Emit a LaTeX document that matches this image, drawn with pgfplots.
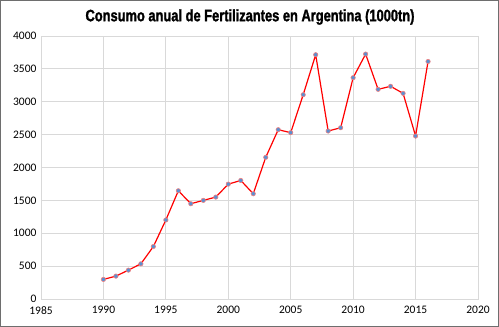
\documentclass[border=0pt]{standalone}
\usepackage{fontspec}
\setmainfont{Carlito}
\newfontfamily\titlefont[FakeStretch=0.78, FakeBold=1.5]{Liberation Sans Bold}
\usepackage{pgfplots}
\pgfplotsset{compat=1.18}
\definecolor{gridgray}{HTML}{D9D9D9}
\definecolor{framegray}{HTML}{6E6E6E}
\definecolor{markblue}{HTML}{5B8FD0}
\definecolor{markedge}{HTML}{F08080}
\begin{document}
\begin{tikzpicture}
\draw[framegray, line width=1.2pt] (-40.4pt,-27.4pt) rectangle (457.4pt,298.4pt);
\begin{axis}[
  at={(0,0)}, anchor=south west,
  scale only axis, width=437pt, height=263pt,
  xmin=1985, xmax=2020, ymin=0, ymax=4000,
  xtick={1985,1990,...,2020}, ytick={0,500,...,4000},
  grid=major, major grid style={gridgray, line width=0.8pt},
  axis line style={draw=gridgray, line width=0.8pt},
  major tick length=0pt,
  tick label style={font=\fontsize{11.5}{13}\selectfont, text=black},
  /pgf/number format/assume math mode=true,
  /pgf/number format/set thousands separator={},
  xticklabel style={yshift=-4pt},
  yticklabel style={xshift=-1pt},
  clip=false,
]
\addplot[red, line width=1.2pt, mark=*, mark size=2.2pt,
  mark options={fill=markblue, draw=markedge, line width=0.6pt}] coordinates {
(1990,298) (1991,348) (1992,439) (1993,535) (1994,798) (1995,1202)
(1996,1646) (1997,1449) (1998,1500) (1999,1550) (2000,1747) (2001,1803)
(2002,1601) (2003,2155) (2004,2575) (2005,2530) (2006,3107) (2007,3715)
(2008,2555) (2009,2605) (2010,3366) (2011,3725) (2012,3189) (2013,3235)
(2014,3128) (2015,2479) (2016,3612)
};
\end{axis}
\node[font=\titlefont\fontsize{16.5}{18}\selectfont] at (209pt,282pt) {Consumo anual de Fertilizantes en Argentina (1000tn)};
\end{tikzpicture}
\end{document}
